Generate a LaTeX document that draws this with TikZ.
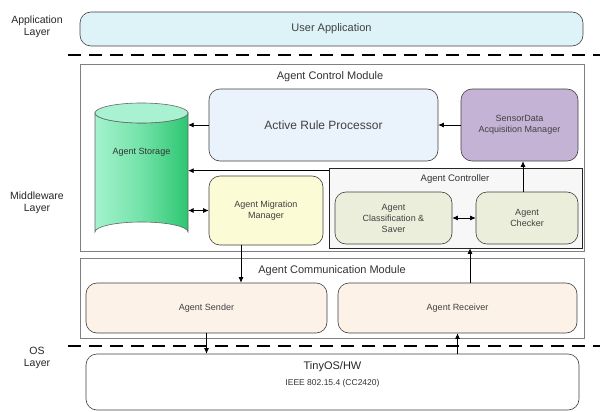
\documentclass[tikz,border=0pt]{standalone}
\usepackage{fontspec}
\setmainfont{Liberation Sans}
\usetikzlibrary{arrows.meta,calc}
\definecolor{uacol}{HTML}{DDF3F8}
\definecolor{arpcol}{HTML}{EAF2FC}
\definecolor{sdcol}{HTML}{C5B3D6}
\definecolor{ammcol}{HTML}{FBFBD6}
\definecolor{ctlcol}{HTML}{ECEEDC}
\definecolor{comcol}{HTML}{FDF2E8}
\definecolor{acbg}{HTML}{F7F7F7}
\definecolor{cylL}{HTML}{A4F2CE}
\definecolor{cylM}{HTML}{72E2A8}
\definecolor{cylR}{HTML}{2DC671}
\definecolor{cylT}{HTML}{A8F2D2}
\tikzset{
  rbox/.style={draw=black!75, line width=0.6pt, rounded corners=11pt, align=center, inner sep=1pt, font=\fontsize{9}{11}\selectfont, text=black!75},
  modbox/.style={draw=black!50, line width=0.8pt, fill=white},
  layerlbl/.style={align=center, font=\fontsize{10.5}{12}\selectfont, text=black!85},
  modtitle/.style={font=\fontsize{11}{13}\selectfont, text=black!80},
  sep/.style={line width=2pt, dash pattern=on 13pt off 8pt},
  conn/.style={line width=0.7pt, -{Latex[length=5.5pt,width=5pt]}},
  bconn/.style={line width=0.7pt, {Latex[length=5.5pt,width=5pt]}-{Latex[length=5.5pt,width=5pt]}},
}
\begin{document}
\begin{tikzpicture}[x=1pt,y=-1pt]
\useasboundingbox (0,0) rectangle (610,412);
\begin{scope}
\clip (0,0) rectangle (610,412);
% layer labels
\node[layerlbl] (l1) at (37,27) {Application\\Layer};
\node[layerlbl] (l2) at (37,203) {Middleware\\Layer};
\node[layerlbl] (l3) at (37,358) {OS\\Layer};
% application
\node[rbox, fill=uacol, minimum width=503, minimum height=34, font=\fontsize{11}{13}\selectfont] (ua) at (331.5,29) {User Application};
\coordinate (d1a) at (68,55); \coordinate (d1b) at (600,55);
\draw[sep] (d1a) -- (d1b);
% agent control module
\node[modbox, minimum width=504, minimum height=187] (acm) at (332,157.5) {};
\node[modtitle] (acmt) at (330,77) {Agent Control Module};
% storage cylinder
\node[minimum width=93, minimum height=139, inner sep=0] (stor) at (141.5,172.5) {};
\draw[draw=black!60, line width=0.6pt, left color=cylL, right color=cylR, middle color=cylM]
  (95,113) -- (95,232) arc[start angle=180, end angle=360, x radius=46.5, y radius=10] -- (188,113) arc[start angle=0, end angle=180, x radius=46.5, y radius=10] -- cycle;
\draw[draw=black!60, line width=0.6pt, fill=cylT]
  (141.5,113) ellipse [x radius=46.5, y radius=10];
\node[font=\fontsize{9}{11}\selectfont, text=black!80] (stort) at (141.5,152) {Agent Storage};
% processors
\node[rbox, fill=arpcol, minimum width=229, minimum height=72, font=\fontsize{12}{14}\selectfont] (arp) at (323.5,125) {Active Rule Processor};
\node[rbox, fill=sdcol, minimum width=117, minimum height=72] (sdam) at (519.5,125) {SensorData\\Acquisition Manager};
% agent controller
\node[draw=black!85, line width=0.7pt, fill=acbg, minimum width=253, minimum height=80] (ac) at (455.5,208) {};
\node[font=\fontsize{9.5}{11}\selectfont, text=black!80] (act) at (455,179) {Agent Controller};
\node[rbox, fill=ammcol, minimum width=114, minimum height=69] (amm) at (266,210.5) {Agent Migration\\Manager};
\node[rbox, fill=ctlcol, minimum width=117, minimum height=52] (cls) at (393.5,218) {Agent\\Classification \&\\Saver};
\node[rbox, fill=ctlcol, minimum width=102, minimum height=52] (chk) at (527,218) {Agent\\Checker};
% communication module
\node[modbox, minimum width=504, minimum height=80] (com) at (332,298) {};
\node[modtitle] (comt) at (332,271) {Agent Communication Module};
\node[rbox, fill=comcol, minimum width=241, minimum height=50] (snd) at (206.5,308) {Agent Sender};
\node[rbox, fill=comcol, minimum width=239, minimum height=50] (rcv) at (457.5,308) {Agent Receiver};
\coordinate (d2a) at (68,346); \coordinate (d2b) at (600,346);
\draw[sep] (d2a) -- (d2b);
% OS
\node[rbox, fill=white, minimum width=493, minimum height=56] (os) at (332.5,382) {};
\node[font=\fontsize{11}{13}\selectfont, text=black!85] (ost) at (332.5,367) {TinyOS/HW};
\node[font=\fontsize{8.5}{10}\selectfont, text=black!80] (ost2) at (332.5,383) {IEEE 802.15.4 (CC2420)};
% connectors
\draw[conn] (arp.west) -- (arp.west -| stor.east);
\draw[conn] (sdam.west) -- (arp.east);
\draw[conn] ([yshift=-3]ac.north west) -- ([yshift=-3]ac.north west -| stor.east);
\draw[bconn] (amm.west) -- (amm.west -| stor.east);
\draw[bconn] (cls.east) -- (chk.west);
\draw[conn] ([xshift=-4]chk.north) -- ([xshift=-4]chk.north |- sdam.south);
\draw[conn] ([xshift=-25]amm.south) -- ([xshift=-25]amm.south |- snd.north);
\draw[conn] ([xshift=12.5]rcv.north) -- ([xshift=12.5]rcv.north |- ac.south);
\draw[conn] (snd.south) -- (snd.south |- os.north);
\draw[conn] (rcv.south |- os.north) -- (rcv.south);
\end{scope}
\end{tikzpicture}
\end{document}
